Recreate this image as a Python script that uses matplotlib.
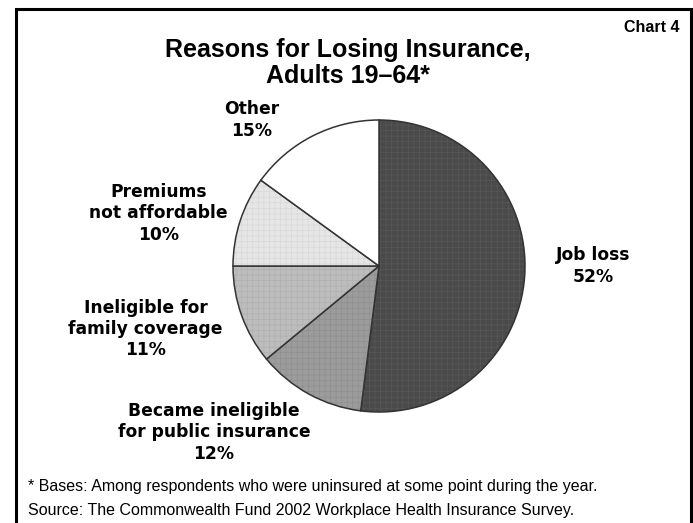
import matplotlib
matplotlib.use("Agg")
import matplotlib.pyplot as plt
from matplotlib.patches import Rectangle

# Reasons for losing insurance, share of adults 19-64 (percent)
categories = [
    "Job loss",
    "Became ineligible\nfor public insurance",
    "Ineligible for\nfamily coverage",
    "Premiums\nnot affordable",
    "Other",
]
shares = [52, 12, 11, 10, 15]

title = "Reasons for Losing Insurance,\nAdults 19\u201364*"
chart_tag = "Chart 4"
footnotes = [
    "* Bases: Among respondents who were uninsured at some point during the year.",
    "Source: The Commonwealth Fund 2002 Workplace Health Insurance Survey.",
]

# Styling
fills = ["#4a4a4a", "#9c9c9c", "#bdbdbd", "#e6e6e6", "#ffffff"]
hatch_cols = ["#575757", "#8f8f8f", "#b0b0b0", "#d8d8d8", None]
label_pos = [(1.47, 0.0), (-1.13, -1.14), (-1.60, -0.43), (-1.51, 0.36), (-0.87, 1.0)]

plt.rcParams["hatch.linewidth"] = 0.5

W, H = 693, 523
fig = plt.figure(figsize=(W / 100, H / 100), dpi=100)
fig.patch.set_facecolor("white")

regular = ["Liberation Sans", "DejaVu Sans"]

# Frame around the chart (open at the bottom edge)
frame = Rectangle((15.5 / W, -0.05), (690.5 - 15.5) / W, (H - 8.5) / H + 0.05,
                  transform=fig.transFigure, fill=False, lw=2.2,
                  edgecolor="black", clip_on=False)
fig.add_artist(frame)

# Pie axes: centre (379, 266) px from top, radius 146 px
cx, cy, r = 379, 266, 146
ax = fig.add_axes([(cx - r) / W, (H - cy - r) / H, 2 * r / W, 2 * r / H])
wedges, _ = ax.pie(shares, colors=fills, startangle=90, counterclock=False,
                   radius=1.0,
                   wedgeprops=dict(edgecolor="#333333", linewidth=1.1))
for w, hc in zip(wedges, hatch_cols):
    if hc is not None:
        w.set_hatch("+++")
        w._hatch_color = matplotlib.colors.to_rgba(hc)
ax.set_xlim(-1, 1)
ax.set_ylim(-1, 1)
ax.set_aspect("auto")
ax.axis("off")

for name, val, (lx, ly) in zip(categories, shares, label_pos):
    ax.text(lx, ly, f"{name}\n{val}%", ha="center", va="center",
            fontsize=12.3, fontweight="bold", family=["DejaVu Sans"],
            linespacing=1.22, clip_on=False)

fig.text(348 / W, 1 - 63 / H, title, ha="center", va="center",
         fontsize=18, fontweight="bold", family=regular, linespacing=1.15)
fig.text(680 / W, 1 - 27 / H, chart_tag, ha="right", va="center",
         fontsize=11.5, fontweight="bold", family=regular)

fig.text(28 / W, 1 - 487 / H, footnotes[0], ha="left", va="center",
         fontsize=11.5, family=regular)
fig.text(28 / W, 1 - 510 / H, footnotes[1], ha="left", va="center",
         fontsize=11.5, family=regular)

fig.savefig("out.png", dpi=100, facecolor="white")
